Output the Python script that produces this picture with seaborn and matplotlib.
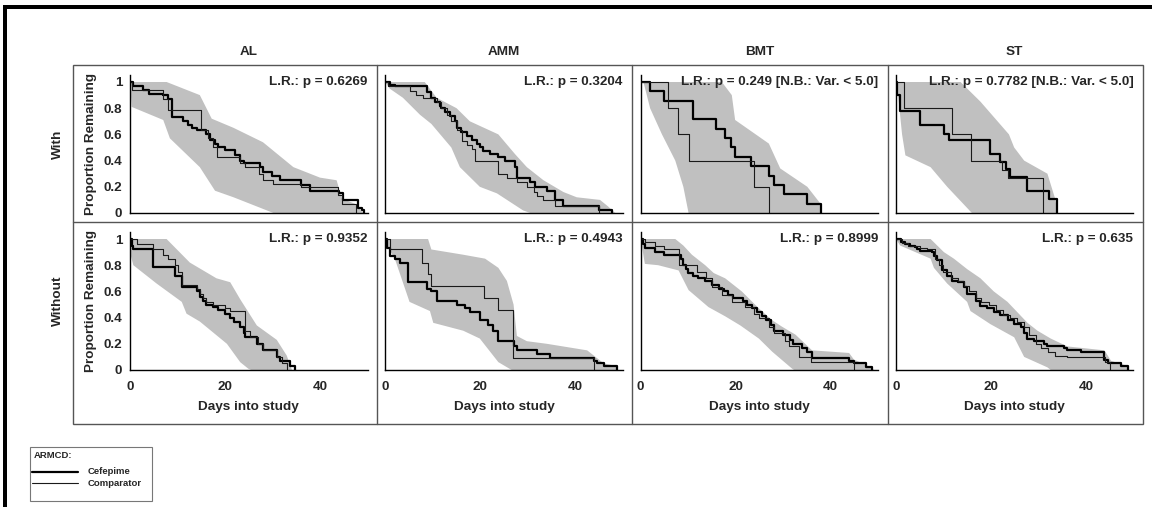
import numpy as np
import pandas as pd
import matplotlib
matplotlib.use("Agg")
import matplotlib.pyplot as plt
import seaborn as sns
from matplotlib.lines import Line2D
from matplotlib.patches import Rectangle

# ---------------- data ----------------
COLUMNS = ["AL", "AMM", "BMT", "ST"]
ROWS = ["With", "Without"]
ARMS = ["Cefepime", "Comparator"]
LEGEND_TITLE = "ARMCD:"
X_TICKS = [0, 20, 40]
Y_TICKS = [0, 0.2, 0.4, 0.6, 0.8, 1]
Y_TICK_LABELS = ["0", "0.2", "0.4", "0.6", "0.8", "1"]

P_TEXT = {
    ("With", "AL"): "L.R.: p = 0.6269",
    ("With", "AMM"): "L.R.: p = 0.3204",
    ("With", "BMT"): "L.R.: p = 0.249 [N.B.: Var. < 5.0]",
    ("With", "ST"): "L.R.: p = 0.7782 [N.B.: Var. < 5.0]",
    ("Without", "AL"): "L.R.: p = 0.9352",
    ("Without", "AMM"): "L.R.: p = 0.4943",
    ("Without", "BMT"): "L.R.: p = 0.8999",
    ("Without", "ST"): "L.R.: p = 0.635",
}

# (day, proportion remaining) step points
AL_WITH_CEF = [(0,1),(0.7,0.97),(2.8,0.94),(4,0.91),(7,0.9),(8,0.87),(8.8,0.73),(11.2,0.70),(12.3,0.67),(13,0.65),(14,0.63),(16.1,0.6),(16.8,0.56),(17.9,0.53),(18.6,0.5),(20,0.48),(22.1,0.44),(23.2,0.40),(23.9,0.38),(27.4,0.35),(28.1,0.31),(29.8,0.28),(31.6,0.25),(36.1,0.21),(37.9,0.17),(43.9,0.15),(44.9,0.1),(48,0.04),(48.8,0.02),(49.2,0)]
AL_WITH_CMP = [(0,1),(0.4,0.94),(7,0.87),(8.1,0.79),(15,0.63),(16.5,0.57),(17.5,0.5),(18.3,0.43),(23.2,0.38),(24.2,0.35),(27.2,0.3),(28.1,0.25),(30.2,0.22),(36.1,0.2),(43.7,0.14),(44.6,0.07),(47.5,0)]
AL_WITH_UP = [(0,1),(7.7,1),(14.7,0.9),(17.2,0.72),(21.8,0.65),(28,0.54),(34.4,0.35),(40,0.27),(43.5,0.25),(44.6,0.11),(47.4,0.07),(49.1,0)]
AL_WITH_LO = [(0,1),(0.35,0.81),(7,0.71),(8.4,0.57),(14.7,0.35),(17.9,0.17),(21.8,0.12),(30.2,0)]

AMM_WITH_CEF = [(0,1),(0.9,0.98),(2,0.97),(8.7,0.92),(9.7,0.88),(10.4,0.85),(11.5,0.82),(11.8,0.8),(12.5,0.77),(13.6,0.74),(14.6,0.7),(15,0.65),(16,0.62),(17.1,0.59),(18.2,0.56),(19.4,0.53),(19.9,0.5),(20.6,0.47),(22,0.45),(23.8,0.43),(25.2,0.4),(27.3,0.35),(27.7,0.27),(30.5,0.24),(31.5,0.2),(34,0.17),(35.8,0.1),(37.5,0.05),(45,0.02),(47.7,0)]
AMM_WITH_CMP = [(0,1),(0.6,0.97),(5.1,0.93),(6.5,0.9),(8,0.88),(10.8,0.85),(11.8,0.8),(12.9,0.75),(13.9,0.7),(15,0.63),(16.1,0.55),(17.1,0.52),(18.2,0.49),(18.9,0.4),(23.8,0.3),(25.6,0.27),(27.7,0.24),(29.8,0.2),(31.2,0.16),(31.9,0.13),(33.3,0.1),(35.8,0.05),(44.9,0)]
AMM_WITH_UP = [(0,1),(8.3,1),(10.8,0.88),(15,0.8),(17.8,0.7),(23.8,0.6),(27.3,0.45),(29.8,0.35),(33.3,0.25),(37.5,0.16),(40.3,0.12),(45.2,0.1),(46.9,0.05),(48.4,0)]
AMM_WITH_LO = [(0,1),(0.9,0.95),(3.7,0.88),(7.3,0.75),(9.7,0.68),(13.9,0.5),(15.7,0.35),(19.9,0.2),(23.5,0.15),(29,0.02),(30.5,0)]

BMT_WITH_CEF = [(0,1),(2,0.929),(4.9,0.857),(11.1,0.714),(15.8,0.643),(17.8,0.571),(19.1,0.5),(19.9,0.429),(23.3,0.357),(27.1,0.286),(28,0.214),(30.1,0.143),(35.1,0.071),(37.9,0)]
BMT_WITH_CMP = [(0,1),(5.85,0.8),(7.96,0.6),(10.1,0.4),(23.8,0.2),(27,0)]
BMT_WITH_UP = [(0,1),(17.1,1),(19.2,0.9),(19.9,0.71),(27,0.53),(29.4,0.34),(35.1,0.2),(37.9,0.07),(38.2,0)]
BMT_WITH_LO = [(0,1),(0.6,1),(2,0.8),(4.5,0.6),(7.3,0.4),(9,0.2),(10.1,0)]

ST_WITH_CEF = [(0,1),(0.2,0.898),(0.9,0.776),(5.0,0.668),(10.1,0.605),(11.1,0.559),(19.9,0.452),(22.0,0.388),(23.1,0.337),(24.0,0.278),(27.7,0.166),(32.3,0.107),(34.0,0)]
ST_WITH_CMP = [(0,1),(1.8,0.8),(11.8,0.6),(15.9,0.4),(22.3,0.33),(23.7,0.27),(31,0)]
ST_WITH_UP = [(0,1),(13.6,1),(17.8,0.85),(23.8,0.6),(24.9,0.5),(27,0.4),(31.9,0.3),(33.6,0.1),(34,0)]
ST_WITH_LO = [(0,1),(0.2,0.98),(0.6,0.85),(1.3,0.6),(2,0.44),(7.3,0.35),(10.8,0.2),(16,0)]

AL_WITHOUT_CEF = [(0,1),(0.35,0.95),(0.7,0.92),(4.9,0.79),(9.5,0.72),(10.9,0.63),(14,0.6),(14.7,0.56),(15.4,0.53),(16.1,0.5),(17.5,0.48),(18.6,0.46),(20,0.43),(21.1,0.4),(21.8,0.37),(23.2,0.33),(23.9,0.28),(24.2,0.25),(26.7,0.2),(28.1,0.15),(30.9,0.1),(31.6,0.07),(33.7,0.03),(34.7,0)]
AL_WITHOUT_CMP = [(0,1),(1.4,0.96),(4.9,0.92),(7,0.88),(8,0.85),(9.5,0.8),(10.2,0.75),(10.9,0.65),(14,0.62),(14.7,0.58),(15.4,0.55),(16.1,0.52),(17.5,0.5),(20,0.47),(21,0.45),(24.2,0.3),(25.3,0.25),(27,0.2),(28.1,0.15),(30.9,0.1),(31.9,0.05),(33,0)]
AL_WITHOUT_UP = [(0,1),(7.7,1),(12.6,0.82),(18.2,0.7),(21.1,0.67),(23.2,0.54),(26.7,0.34),(30.9,0.23),(33,0.11),(34,0.01),(34.1,0)]
AL_WITHOUT_LO = [(0,1),(0.2,0.87),(0.7,0.8),(5.6,0.66),(10.9,0.52),(11.9,0.43),(14.7,0.37),(20.4,0.2),(23.2,0.06),(24.9,0.01),(25.5,0)]

AMM_WITHOUT_CEF = [(0,1),(0.35,0.93),(0.9,0.87),(2,0.85),(3,0.82),(4.8,0.67),(8.7,0.62),(9.7,0.6),(10.8,0.53),(15,0.5),(16.8,0.47),(17.8,0.44),(19.9,0.38),(21.7,0.34),(22.7,0.3),(23.8,0.22),(27,0.18),(27.7,0.15),(31.9,0.12),(34.7,0.09),(43.9,0.07),(44.6,0.05),(46,0.03),(48.8,0)]
AMM_WITHOUT_CMP = [(0,1),(0.9,0.92),(7.7,0.82),(8.9,0.73),(9.7,0.64),(20.7,0.55),(23.8,0.46),(26.8,0.09),(43.9,0)]
AMM_WITHOUT_UP = [(0,1),(9,1),(9.7,0.92),(16.4,0.88),(21,0.85),(23.8,0.78),(25.6,0.68),(27,0.5),(27.7,0.26),(29.8,0.22),(34,0.2),(42.5,0.15),(46,0.05),(48.8,0.03),(49,0)]
AMM_WITHOUT_LO = [(0,1),(0.35,0.95),(2,0.85),(5.1,0.52),(9.4,0.45),(10.1,0.36),(16.4,0.3),(19.9,0.24),(23.8,0.06),(26.6,0)]

BMT_WITHOUT_CEF = [(0,1),(0.4,0.96),(1,0.93),(3,0.9),(5,0.88),(8.5,0.85),(9,0.8),(9.5,0.77),(10,0.74),(11,0.72),(12,0.7),(13.5,0.68),(15,0.65),(16.5,0.62),(17.5,0.6),(18.5,0.57),(19.5,0.55),(21.5,0.53),(22.5,0.5),(23.5,0.47),(24.5,0.44),(25.5,0.41),(26.5,0.38),(27.5,0.34),(28,0.3),(30,0.27),(31.5,0.23),(32,0.2),(34,0.17),(35,0.14),(36.1,0.09),(43.9,0.07),(45,0.05),(47.4,0.025),(48.8,0)]
BMT_WITHOUT_CMP = [(0,1),(0.9,0.98),(3,0.95),(5,0.92),(8.1,0.8),(11.8,0.75),(13.8,0.7),(15,0.63),(17.1,0.57),(19.2,0.52),(22,0.48),(23.8,0.43),(24.9,0.4),(27,0.33),(28,0.28),(30.5,0.22),(31.2,0.18),(33.3,0.1),(35.8,0.06),(44.9,0)]
BMT_WITHOUT_UP = [(0,1),(7.3,1),(9,0.95),(10.8,0.88),(13.6,0.8),(15.4,0.74),(17.8,0.7),(21.3,0.6),(24.9,0.47),(27.7,0.38),(29.8,0.33),(32.6,0.27),(36.1,0.15),(43.9,0.13),(44.9,0.08),(47.4,0.04),(49.2,0)]
BMT_WITHOUT_LO = [(0,1),(0.3,0.94),(0.9,0.81),(3.7,0.8),(8,0.76),(10.1,0.61),(14.3,0.48),(17.8,0.41),(21,0.34),(24.9,0.24),(27.7,0.14),(31.9,0.01),(32.3,0)]

ST_WITHOUT_CEF = [(0,1),(1,0.98),(2,0.96),(3,0.95),(4,0.94),(4.5,0.92),(5,0.91),(7.6,0.9),(8,0.87),(8.7,0.84),(9.7,0.76),(10.8,0.72),(11.8,0.68),(13,0.67),(14.3,0.63),(15,0.58),(16.8,0.53),(17.8,0.49),(19.2,0.47),(20.6,0.44),(22,0.42),(23.5,0.38),(24.9,0.35),(26.3,0.33),(27,0.28),(27.7,0.24),(29,0.22),(31.2,0.2),(31.9,0.18),(35.4,0.165),(36.1,0.15),(39,0.14),(43.9,0.08),(44.6,0.05),(47.4,0.03),(48.8,0)]
ST_WITHOUT_CMP = [(0,1),(1.2,0.97),(2.5,0.95),(5,0.93),(6.5,0.92),(8.3,0.85),(9,0.8),(10,0.75),(11.5,0.7),(13,0.68),(14.3,0.64),(15.3,0.6),(16.8,0.55),(18,0.52),(19.5,0.5),(21,0.46),(22.5,0.42),(24,0.4),(25.5,0.37),(27,0.33),(28,0.27),(29.5,0.2),(30.5,0.17),(32,0.14),(33.5,0.11),(36,0.1),(44,0.06),(45,0)]
ST_WITHOUT_UP = [(0,1),(7.3,1),(10.1,0.9),(12.2,0.85),(15,0.77),(17.8,0.7),(20.6,0.6),(23.5,0.52),(27.7,0.36),(29.8,0.3),(32.6,0.24),(36.1,0.18),(43.9,0.15),(45.3,0.07),(48.8,0.03),(49,0)]
ST_WITHOUT_LO = [(0,1),(0.9,0.95),(7.3,0.85),(8,0.78),(10.8,0.66),(15,0.52),(15.7,0.45),(19.9,0.35),(24.9,0.25),(27,0.1),(31.9,0.02),(32.6,0)]

PANELS = {
    ("With", "AL"): (AL_WITH_CEF, AL_WITH_CMP, AL_WITH_UP, AL_WITH_LO),
    ("With", "AMM"): (AMM_WITH_CEF, AMM_WITH_CMP, AMM_WITH_UP, AMM_WITH_LO),
    ("With", "BMT"): (BMT_WITH_CEF, BMT_WITH_CMP, BMT_WITH_UP, BMT_WITH_LO),
    ("With", "ST"): (ST_WITH_CEF, ST_WITH_CMP, ST_WITH_UP, ST_WITH_LO),
    ("Without", "AL"): (AL_WITHOUT_CEF, AL_WITHOUT_CMP, AL_WITHOUT_UP, AL_WITHOUT_LO),
    ("Without", "AMM"): (AMM_WITHOUT_CEF, AMM_WITHOUT_CMP, AMM_WITHOUT_UP, AMM_WITHOUT_LO),
    ("Without", "BMT"): (BMT_WITHOUT_CEF, BMT_WITHOUT_CMP, BMT_WITHOUT_UP, BMT_WITHOUT_LO),
    ("Without", "ST"): (ST_WITHOUT_CEF, ST_WITHOUT_CMP, ST_WITHOUT_UP, ST_WITHOUT_LO),
}

# ---------------- styling ----------------
sns.set_theme(style="white")
plt.rcParams["font.family"] = ["Liberation Sans", "DejaVu Sans"]
plt.rcParams["font.weight"] = "bold"
plt.rcParams["axes.labelweight"] = "bold"

W, H = 1152, 507
fig = plt.figure(figsize=(W / 100, H / 100), dpi=100)
fig.patch.set_facecolor("white")

def fx(px):
    return px / W

def fy(py):
    return 1 - py / H

FS = 9.7
BAND = "#c0c0c0"
FRAME = "#555555"
LW_CEF = 1.6
LW_CMP = 0.8
ARM_COLORS = {"Cefepime": "black", "Comparator": "#1a1a1a"}

# axes geometry in pixels
AX_LEFT0 = 130.0
AX_STEP = 255.3
AX_W = 237.5
ROW_Y0 = {"With": 213.0, "Without": 370.0}   # pixel of y = 0
PX_PER_UNIT = 131.0
YMAX = 1.05
XMAX = 50

for r, row in enumerate(ROWS):
    for c, col in enumerate(COLUMNS):
        left = AX_LEFT0 + c * AX_STEP
        y0 = ROW_Y0[row]
        top = y0 - YMAX * PX_PER_UNIT
        ax = fig.add_axes([fx(left), fy(y0), AX_W / W, (y0 - top) / H])
        ax.set_facecolor("none")
        cef, cmp_, up, lo = PANELS[(row, col)]

        ux, uy = zip(*up)
        lx, ly = zip(*lo)
        ax.fill(list(ux) + list(lx)[::-1], list(uy) + list(ly)[::-1],
                color=BAND, lw=0, zorder=1)

        frames = []
        for arm, pts in zip(ARMS, (cef, cmp_)):
            d = pd.DataFrame(pts, columns=["day", "surv"])
            d["arm"] = arm
            frames.append(d)
        df = pd.concat(frames, ignore_index=True)
        sns.lineplot(data=df, x="day", y="surv", hue="arm", size="arm",
                     palette=ARM_COLORS,
                     sizes={"Cefepime": LW_CEF, "Comparator": LW_CMP},
                     drawstyle="steps-post", estimator=None, sort=False,
                     legend=False, ax=ax, zorder=3)

        ax.set_xlim(0, XMAX)
        ax.set_ylim(0, YMAX)
        ax.set_xlabel("")
        ax.set_ylabel("")
        for s in ("top", "right"):
            ax.spines[s].set_visible(False)
        for s in ("left", "bottom"):
            ax.spines[s].set_color("black")
            ax.spines[s].set_linewidth(1.0)
            ax.spines[s].set_zorder(4)
        ax.set_xticks(X_TICKS)
        ax.set_yticks(Y_TICKS)
        ax.tick_params(axis="both", direction="inout", length=8, width=1,
                       color="black", labelsize=FS, pad=1.5)
        ax.tick_params(axis="x", pad=4)
        if c == 0:
            ax.set_yticklabels(Y_TICK_LABELS, fontweight="bold")
        else:
            ax.set_yticklabels([])
        if r == 1:
            ax.set_xticklabels([str(t) for t in X_TICKS], fontweight="bold")
        else:
            ax.set_xticklabels([])

        ax.text(XMAX, 1.0, P_TEXT[(row, col)], ha="right", va="center",
                fontsize=FS, fontweight="bold", zorder=5)

        if r == 0:
            fig.text(fx(left + AX_W / 2), fy(52), col, ha="center", va="center",
                     fontsize=FS, fontweight="bold")
        if r == 1:
            fig.text(fx(left + AX_W / 2), fy(407), "Days into study", ha="center",
                     va="center", fontsize=FS, fontweight="bold")
        if c == 0:
            ymid = (y0 + top) / 2
            fig.text(fx(91), fy(ymid), "Proportion Remaining", rotation=90,
                     ha="center", va="center", fontsize=FS, fontweight="bold")
            fig.text(fx(58), fy(ymid), row, rotation=90, ha="center",
                     va="center", fontsize=FS, fontweight="bold")

# panel frame
fl, ft, fr, fb = 73, 65, 1143, 424
fig.add_artist(Rectangle((fx(fl), fy(fb)), (fr - fl) / W, (fb - ft) / H,
                         transform=fig.transFigure, fill=False,
                         edgecolor=FRAME, lw=1.0))
fig.add_artist(Line2D([fx(fl), fx(fr)], [fy(222), fy(222)],
                      transform=fig.transFigure, color=FRAME, lw=1.0))
for xd in (376.5, 632, 887.5):
    fig.add_artist(Line2D([fx(xd), fx(xd)], [fy(ft), fy(fb)],
                          transform=fig.transFigure, color=FRAME, lw=1.0))

# outer black page border (left and top)
fig.add_artist(Rectangle((fx(3), 0), 4 / W, (H - 5) / H,
                         transform=fig.transFigure, color="black", lw=0))
fig.add_artist(Rectangle((fx(3), fy(8.5)), (W - 3) / W, 3.5 / H,
                         transform=fig.transFigure, color="black", lw=0))

# legend box (drawn as a key panel)
LFS = 6.8
fig.add_artist(Rectangle((fx(30), fy(501)), 122 / W, 54 / H,
                         transform=fig.transFigure, fill=False,
                         edgecolor="#777777", lw=0.8))
fig.text(fx(34), fy(455), LEGEND_TITLE, ha="left", va="center",
         fontsize=LFS, fontweight="bold")
for arm, yy, lw in zip(ARMS, (472, 483), (LW_CEF, LW_CMP)):
    fig.add_artist(Line2D([fx(32), fx(78)], [fy(yy), fy(yy)],
                          transform=fig.transFigure, color=ARM_COLORS[arm], lw=lw))
    fig.text(fx(88), fy(yy), arm, ha="left", va="center",
             fontsize=LFS, fontweight="bold")

fig.savefig("out.png", dpi=100)
